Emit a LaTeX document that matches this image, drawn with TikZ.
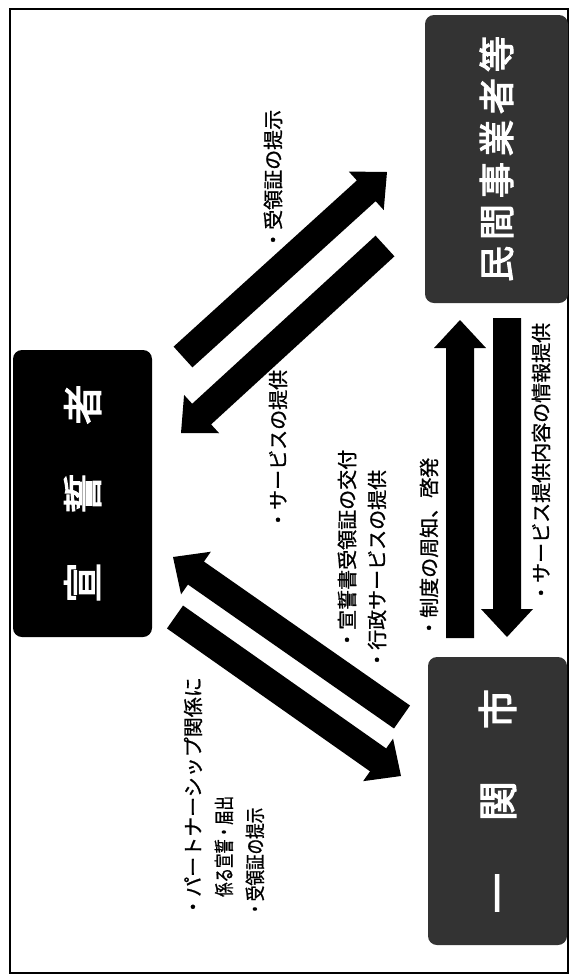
\documentclass[tikz,border=0pt]{standalone}
\usepackage{fontspec}
\setmainfont{Noto Sans CJK JP}
\newfontfamily\jp[FakeBold=1]{Noto Sans CJK JP}
\newfontfamily\jpb[FakeBold=3]{Noto Sans CJK JP}
\usetikzlibrary{calc}
\newcommand\fatarrow[3]{%
  \coordinate (#1b) at ($(#3)!28pt!(#2)$);
  \fill[arrowfill] ($(#2)!14pt!90:(#3)$) -- ($(#1b)!14pt!-90:(#2)$) -- ($(#1b)!26pt!-90:(#2)$) -- (#3)
    -- ($(#1b)!26pt!90:(#2)$) -- ($(#1b)!14pt!90:(#2)$) -- ($(#2)!14pt!-90:(#3)$) -- cycle;
}
\begin{document}
\begin{tikzpicture}[x=1pt,y=-1pt,
  darkbox/.style={draw=none, fill=black, rounded corners=9pt, rotate=90, text=white,
    font=\jpb\fontsize{40}{40}\selectfont, inner sep=0pt},
  halftone/.style={darkbox, fill=black!80},
  lbl/.style={rotate=90, anchor=west, inner sep=0pt, font=\jp\fontsize{20}{31}\selectfont, align=left},
  arrowfill/.style={fill=black}]
\useasboundingbox (0,0) rectangle (571,978);
\draw[line width=1.2pt] (10,9) rectangle (568,973);

% boxes
\node[darkbox, minimum width=287pt, minimum height=139pt] (sensei) at (82.5,493.5)
  {宣\hspace{49pt}誓\hspace{49pt}者};
\node[halftone, minimum width=288pt, minimum height=139pt] (city) at (497.5,801)
  {一\hspace{52pt}関\hspace{52pt}市};
\node[halftone, minimum width=288pt, minimum height=143pt, font=\jpb\fontsize{36}{36}\selectfont] (biz) at (496.5,159)
  {民\hspace{6pt}間\hspace{6pt}事\hspace{6pt}業\hspace{6pt}者\hspace{6pt}等\hspace{16pt}};

% arrow end points
\coordinate (aT) at (183,357); \coordinate (aP) at (387,172);
\coordinate (bT) at (385,246); \coordinate (bP) at (181,433);
\coordinate (cT) at (402,717); \coordinate (cP) at (173,557);
\coordinate (dT) at (175,617); \coordinate (dP) at (401,776);
\coordinate (eT) at (460,638); \coordinate (eP) at (460,320);
\coordinate (fT) at (507,318); \coordinate (fP) at (507,637);
\fatarrow{a}{aT}{aP}
\fatarrow{b}{bT}{bP}
\fatarrow{c}{cT}{cP}
\fatarrow{d}{dT}{dP}
\fatarrow{e}{eT}{eP}
\fatarrow{f}{fT}{fP}

% labels
\node[lbl] (l1) at (273,250) {・受領証の提示};
\node[lbl] (l2) at (278,530) {・サービスの提供};
\node[lbl] (l3a) at (347,650) {・宣誓書受領証の交付};
\node[lbl] (l3b) at (377,670) {・行政サービスの提供};
\node[lbl] (l4) at (429,638) {・制度の周知、啓発};
\node[lbl] (l5) at (541,603) {・サービス提供内容の情報提供};
\node[lbl] (l6) at (224,917) {・パートナーシップ関係に\\
  \hspace{20pt}\scalebox{0.72}[1]{係る宣誓・届出}\\
  \scalebox{0.78}[1]{・受領証の提示}};
\end{tikzpicture}
\end{document}
